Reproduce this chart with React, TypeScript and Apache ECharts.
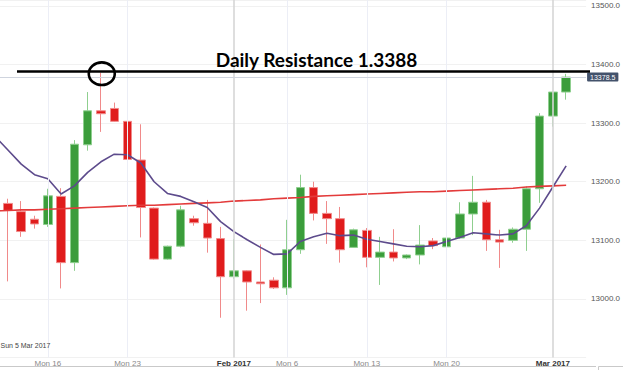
import React, { useEffect, useRef } from "react";
import * as echarts from "echarts";

// Trading days (index 0 is a leading slot with only moving-average values, last slot is empty)
const categories = [
  "2017-01-11", "2017-01-12", "2017-01-13", "2017-01-15", "2017-01-16", "2017-01-17", "2017-01-18",
  "2017-01-19", "2017-01-20", "2017-01-22", "2017-01-23", "2017-01-24", "2017-01-25", "2017-01-26",
  "2017-01-27", "2017-01-29", "2017-01-30", "2017-01-31", "2017-02-01", "2017-02-02", "2017-02-03",
  "2017-02-05", "2017-02-06", "2017-02-07", "2017-02-08", "2017-02-09", "2017-02-10", "2017-02-12",
  "2017-02-13", "2017-02-14", "2017-02-15", "2017-02-16", "2017-02-17", "2017-02-19", "2017-02-20",
  "2017-02-21", "2017-02-22", "2017-02-23", "2017-02-24", "2017-02-26", "2017-02-27", "2017-02-28",
  "2017-03-01", "2017-03-02", "2017-03-03",
];

const opens = [
  null, 13163, 13149, 13136, 13127, 13175, 13062, 13263, 13321, 13325, 13303, 13237, 13155, 13068,
  13090, 13137, 13129, 13103, 13038, 13048, 13029, 13032, 13019, 13084, 13190, 13146, 13137, 13088,
  13117, 13071, 13080, 13070, 13075, 13099, 13089, 13104, 13145, 13165, 13101, 13100, 13119, 13188,
  13312, 13353, null,
];
const closes = [
  null, 13151, 13115, 13128, 13176, 13062, 13264, 13321, 13316, 13303, 13238, 13156, 13068, 13090,
  13152, 13130, 13104, 13038, 13048, 13029, 13026, 13019, 13084, 13190, 13146, 13137, 13084, 13118,
  13071, 13080, 13070, 13075, 13092, 13091, 13104, 13145, 13165, 13101, 13097, 13119, 13188, 13312,
  13353, 13378.5, null,
];
const lows = [
  null, 13030, 13106, 13120, 13123, 13018, 13048, 13253, 13285, 13302, 13219, 13105, 13067, 13067,
  13088, 13125, 13079, 12968, 13034, 12980, 12993, 13017, 13007, 13077, 13134, 13094, 13062, 13087,
  13054, 13024, 13064, 13068, 13059, 13085, 13074, 13103, 13109, 13082, 13053, 13096, 13082, 13164,
  13294, 13340, null,
];
const highs = [
  null, 13171, 13167, 13142, 13188, 13189, 13271, 13353, 13386, 13335, 13334, 13298, 13156, 13091,
  13159, 13142, 13169, 13123, 13102, 13049, 13093, 13037, 13135, 13212, 13200, 13167, 13157, 13120,
  13121, 13106, 13119, 13076, 13126, 13104, 13119, 13165, 13210, 13169, 13118, 13122, 13192, 13317,
  13354, 13384, null,
];

// Short moving average (purple)
const maShort = [
  13278, 13254, 13230, 13212, 13205, 13179, 13193, 13216, 13234, 13247, 13246, 13232, 13200, 13180,
  13175, 13166, 13156, 13132, 13115, 13101, 13088, 13076, 13077, 13098, 13106, 13112, 13108, 13109,
  13102, 13098, 13094, 13090, 13089, 13091, 13098, 13105, 13113, 13111, 13109, 13111, 13125, 13155,
  13191, 13227, null,
];
// Long moving average (red)
const maLong = [
  13150, 13151, 13152, 13152, 13153, 13154, 13155, 13156, 13157, 13158, 13159, 13160, 13160, 13161,
  13162, 13163, 13164, 13165, 13167, 13168, 13169, 13171, 13172, 13173, 13175, 13176, 13177, 13178,
  13179, 13180, 13181, 13182, 13183, 13183, 13184, 13185, 13186, 13187, 13188, 13189, 13191, 13192,
  13193, 13194, null,
];

const tickIndices = [4, 10, 18, 22, 28, 34, 42];
const tickTexts = ["Mon 16", "Mon 23", "Feb 2017", "Mon 6", "Mon 13", "Mon 20", "Mar 2017"];
const monthTickIndices = [18, 42];

const resistanceLevel = 13388;
const lastPrice = 13378.5;
const titleText = "Daily Resistance 1.3388";
const crosshairDate = "Sun 5 Mar 2017";
const circledIndex = 8;

// The chart's div is shifted left so that the leading slot sits just off the page edge
const SHIFT = 12;

export default function App() {
  const ref = useRef<HTMLDivElement>(null);

  useEffect(() => {
    if (!ref.current) return;
    const chart = echarts.init(ref.current, null, { renderer: "svg" });

    const candleData = categories.map((_, i) =>
      opens[i] === null ? "-" : [opens[i], closes[i], lows[i], highs[i]]
    );

    const vLines = tickIndices.map((idx) => {
      const isMonth = monthTickIndices.includes(idx);
      return {
        xAxis: categories[idx],
        lineStyle: {
          color: isMonth ? "#d6d6d6" : "#eceef6",
          width: isMonth ? 1.6 : 1,
          type: "solid",
        },
      };
    });

    const font = "'Liberation Sans', Arial, sans-serif";

    chart.setOption({
      animation: false,
      backgroundColor: "#ffffff",
      grid: { left: 0, right: 32, top: 0, bottom: 12.4, containLabel: false },
      xAxis: {
        type: "category",
        data: categories,
        boundaryGap: true,
        axisLine: { show: false },
        axisTick: { show: false },
        splitLine: { show: false },
        axisLabel: {
          interval: (index: number) => tickIndices.includes(index),
          formatter: (_v: string, index: number) => {
            const k = tickIndices.indexOf(index);
            if (k < 0) return "";
            return monthTickIndices.includes(index) ? `{b|${tickTexts[k]}}` : tickTexts[k];
          },
          fontSize: 8,
          color: "#8a8a8a",
          fontFamily: font,
          margin: 2,
          rich: {
            b: { fontSize: 8, fontWeight: "bold", color: "#333", fontFamily: font },
          },
        },
      },
      yAxis: {
        type: "value",
        position: "right",
        min: 12900,
        max: 13510,
        interval: 100,
        scale: true,
        axisLine: { show: false },
        axisTick: { show: false },
        splitLine: { show: true, lineStyle: { color: "#f1f1f1", width: 1 } },
        axisLabel: {
          showMinLabel: false,
          showMaxLabel: false,
          formatter: (v: number) => v.toFixed(1),
          fontSize: 8,
          color: "#555",
          fontFamily: font,
          margin: 5,
        },
      },
      series: [
        {
          name: "guides",
          type: "line",
          data: [],
          z: 1,
          silent: true,
          markLine: {
            silent: true,
            symbol: ["none", "none"],
            label: { show: false },
            data: [
              ...vLines,
              {
                yAxis: lastPrice,
                lineStyle: { color: "#cfd4de", width: 1, type: "solid" },
                label: {
                  show: true,
                  position: "end",
                  distance: 1,
                  formatter: () => lastPrice.toFixed(1),
                  backgroundColor: "#43526b",
                  color: "#ffffff",
                  fontSize: 7,
                  fontFamily: font,
                  padding: [1, 3, 1, 3],
                  borderRadius: 1,
                },
              },
            ],
          },
        },
        {
          name: "price",
          type: "candlestick",
          data: candleData,
          barWidth: 9,
          z: 2,
          itemStyle: {
            color: "#3b9d3b",
            color0: "#e01c1c",
            borderColor: "#8fcf8f",
            borderColor0: "#f08a8a",
            borderWidth: 1,
          },
        },
        {
          name: "MA long",
          type: "line",
          data: maLong,
          symbol: "none",
          z: 3,
          lineStyle: { color: "#e33b3b", width: 1.6 },
        },
        {
          name: "MA short",
          type: "line",
          data: maShort,
          symbol: "none",
          z: 4,
          lineStyle: { color: "#5d4b8c", width: 1.6 },
        },
      ],
    });

    const yRes = chart.convertToPixel({ yAxisIndex: 0 }, resistanceLevel) as number;
    const xCirc = chart.convertToPixel({ xAxisIndex: 0 }, categories[circledIndex]) as number;

    chart.setOption({
      graphic: [
        {
          type: "line",
          z: 100,
          shape: { x1: SHIFT + 17, y1: yRes, x2: SHIFT + 590, y2: yRes },
          style: { stroke: "#000", lineWidth: 2.6 },
          silent: true,
        },
        {
          type: "ellipse",
          z: 101,
          shape: { cx: xCirc + 0.8, cy: yRes + 2.2, rx: 13, ry: 11.3 },
          style: { fill: "none", stroke: "#000", lineWidth: 2.6 },
          silent: true,
        },
        {
          type: "text",
          z: 102,
          x: SHIFT + 316.5,
          y: 59.5,
          style: {
            text: titleText,
            fill: "#000",
            font: "bold 19px Lato, 'Open Sans', sans-serif",
            textAlign: "center",
            textVerticalAlign: "middle",
          },
          silent: true,
        },
        {
          type: "text",
          z: 102,
          x: SHIFT + 0.5,
          y: 345.5,
          style: {
            text: crosshairDate,
            fill: "#444",
            font: "7px 'Liberation Sans', Arial, sans-serif",
            textAlign: "left",
            textVerticalAlign: "middle",
          },
          silent: true,
        },
        {
          type: "line",
          z: 50,
          shape: { x1: SHIFT, y1: 366.5, x2: SHIFT + 596, y2: 366.5 },
          style: { stroke: "#c9c9c9", lineWidth: 1 },
          silent: true,
        },
        {
          type: "rect",
          z: 50,
          shape: { x: SHIFT + 598.5, y: 366.5, width: 30, height: 10 },
          style: { fill: "none", stroke: "#c9c9c9", lineWidth: 1 },
          silent: true,
        },
      ],
    });

    return () => chart.dispose();
  }, []);

  return (
    <div
      ref={ref}
      style={{
        position: "fixed",
        left: -SHIFT,
        top: 0,
        width: 623 + SHIFT,
        height: 370,
        background: "#fff",
      }}
    />
  );
}
